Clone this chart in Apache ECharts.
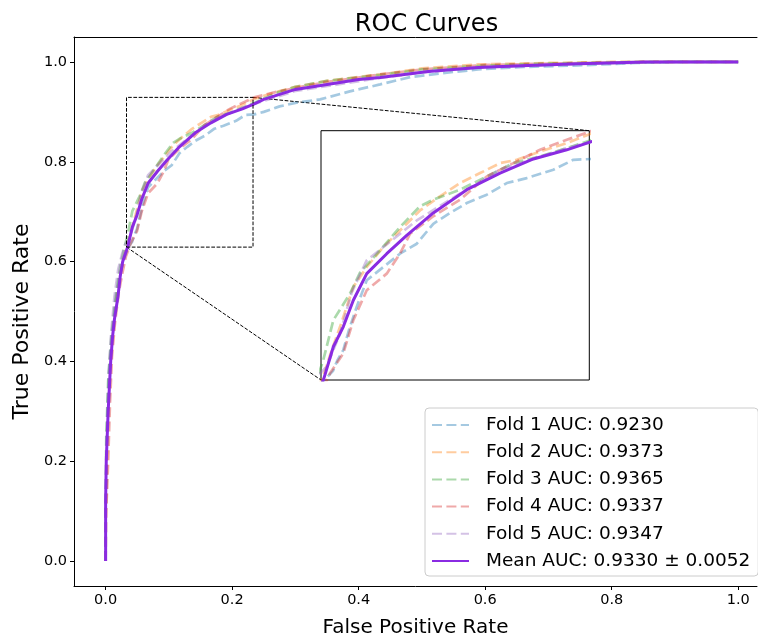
<!DOCTYPE html>
<html><head><meta charset="utf-8">
<script src="https://cdn.jsdelivr.net/npm/echarts@6/dist/echarts.min.js"></script>
<style>html,body{margin:0;padding:0;background:#fff}#c{width:758px;height:643px}</style>
</head><body><div id="c"></div>
<script>
// ---- data ----
const titleText = 'ROC Curves';
const xName = 'False Positive Rate';
const yName = 'True Positive Rate';
const xTicks = [0, 0.2, 0.4, 0.6, 0.8, 1.0];
const yTicks = [0, 0.2, 0.4, 0.6, 0.8, 1.0];
const seriesNames = ['Fold 1 AUC: 0.9230', 'Fold 2 AUC: 0.9373', 'Fold 3 AUC: 0.9365', 'Fold 4 AUC: 0.9337', 'Fold 5 AUC: 0.9347', 'Mean AUC: 0.9330 \u00b1 0.0052'];
const foldColors = ['#1f77b4', '#ff7f0e', '#2ca02c', '#d62728', '#9467bd'];
const meanColor = '#8a2be2';
const zoomX = [0.033, 0.233];
const zoomY = [0.629, 0.929];

const fold1 = [[0,0],[0,0.1],[0.002,0.25],[0.005,0.37],[0.01,0.45],[0.016,0.52],[0.022,0.57],[0.028,0.6],[0.035,0.628],[0.042,0.64],[0.045,0.652],[0.0496,0.665],[0.054,0.69],[0.0596,0.717],[0.0671,0.749],[0.0795,0.765],[0.0919,0.781],[0.1044,0.793],[0.1167,0.817],[0.1292,0.83],[0.1417,0.842],[0.1566,0.852],[0.1715,0.866],[0.1864,0.872],[0.2062,0.882],[0.2211,0.894],[0.235,0.895],[0.25,0.9],[0.275,0.911],[0.3,0.918],[0.339,0.925],[0.386,0.941],[0.434,0.955],[0.483,0.97],[0.55,0.98],[0.589,0.985],[0.66,0.99],[0.747,0.993],[0.84,0.998],[0.9,1],[1,1]];
const fold2 = [[0,0],[0,0.08],[0.003,0.25],[0.007,0.38],[0.012,0.46],[0.018,0.53],[0.024,0.58],[0.03,0.615],[0.036,0.64],[0.041,0.665],[0.0472,0.693],[0.0571,0.741],[0.0671,0.765],[0.0795,0.789],[0.0969,0.817],[0.1068,0.833],[0.1217,0.85],[0.1367,0.866],[0.1516,0.878],[0.1665,0.89],[0.1789,0.894],[0.1963,0.904],[0.2162,0.914],[0.235,0.926],[0.27,0.94],[0.3,0.95],[0.35,0.962],[0.434,0.975],[0.5,0.987],[0.589,0.995],[0.7,0.998],[0.8,1],[1,1]];
const fold3 = [[0,0],[0,0.1],[0.001,0.25],[0.004,0.36],[0.009,0.45],[0.016,0.53],[0.023,0.59],[0.029,0.625],[0.0347,0.653],[0.0422,0.701],[0.0546,0.733],[0.062,0.758],[0.077,0.785],[0.0919,0.813],[0.1068,0.838],[0.1167,0.846],[0.1367,0.858],[0.1566,0.874],[0.1764,0.89],[0.1963,0.898],[0.2162,0.908],[0.235,0.918],[0.27,0.938],[0.3,0.95],[0.35,0.962],[0.434,0.974],[0.5,0.985],[0.6,0.993],[0.7,0.997],[0.85,1],[1,1]];
const fold4 = [[0,0],[0.001,0.1],[0.004,0.2],[0.007,0.32],[0.01,0.41],[0.015,0.48],[0.021,0.54],[0.027,0.58],[0.032,0.61],[0.0397,0.637],[0.0496,0.661],[0.0571,0.701],[0.0671,0.737],[0.082,0.757],[0.0919,0.781],[0.0994,0.805],[0.1167,0.826],[0.1367,0.846],[0.1566,0.874],[0.1764,0.89],[0.1963,0.906],[0.2162,0.918],[0.235,0.929],[0.27,0.94],[0.3,0.948],[0.35,0.96],[0.434,0.975],[0.5,0.985],[0.6,0.994],[0.75,0.998],[0.85,1],[1,1]];
const fold5 = [[0,0],[0,0.1],[0.002,0.25],[0.005,0.38],[0.009,0.46],[0.014,0.53],[0.02,0.585],[0.026,0.615],[0.031,0.635],[0.0372,0.645],[0.0472,0.685],[0.056,0.735],[0.0671,0.773],[0.0795,0.789],[0.1044,0.821],[0.1292,0.846],[0.1665,0.882],[0.2162,0.908],[0.235,0.916],[0.3,0.942],[0.434,0.968],[0.5,0.979],[0.6,0.99],[0.75,0.996],[0.9,1],[1,1]];
const meanRoc = [[0,0],[0,0.12],[0.001,0.2],[0.004,0.3],[0.008,0.4],[0.011,0.45],[0.014,0.485],[0.0195,0.53],[0.023,0.57],[0.027,0.6],[0.031,0.615],[0.035,0.63],[0.0422,0.669],[0.0496,0.693],[0.0571,0.725],[0.0671,0.757],[0.082,0.781],[0.0969,0.803],[0.1167,0.83],[0.1417,0.858],[0.1665,0.878],[0.1913,0.895],[0.2162,0.906],[0.235,0.916],[0.25,0.925],[0.3,0.945],[0.35,0.955],[0.4,0.965],[0.434,0.969],[0.51,0.981],[0.589,0.989],[0.668,0.993],[0.747,0.9966],[0.853,1],[1,1]];
const folds = [fold1, fold2, fold3, fold4, fold5];

// ---- chart ----
const FONT = 'DejaVu Sans';
const chart = echarts.init(document.getElementById('c'), null, {renderer: 'canvas'});
const fmt = v => v.toFixed(1);
const spine = {show: true, onZero: false, lineStyle: {color: '#000', width: 1}};

function foldSeries(i, axis) {
  return {
    type: 'line', name: seriesNames[i], data: folds[i],
    xAxisIndex: axis, yAxisIndex: axis, symbol: 'none', silent: true, z: 2,
    lineStyle: {color: foldColors[i], width: 2.7, type: [10, 4.4], opacity: 0.4},
    itemStyle: {color: foldColors[i], opacity: 0.4}
  };
}
function meanSeries(axis) {
  return {
    type: 'line', name: seriesNames[5], data: meanRoc,
    xAxisIndex: axis, yAxisIndex: axis, symbol: 'none', silent: true, z: 3,
    lineStyle: {color: meanColor, width: 3},
    itemStyle: {color: meanColor}
  };
}
const series = [];
for (let i = 0; i < 5; i++) series.push(foldSeries(i, 0));
series.push(meanSeries(0));
for (let i = 0; i < 5; i++) series.push(foldSeries(i, 1));
series.push(meanSeries(1));
// dashed zoom rectangle on main axes
series.push({
  type: 'line', name: 'zoomRect', silent: true, symbol: 'none', xAxisIndex: 0, yAxisIndex: 0, z: 4,
  data: [[zoomX[0], zoomY[0]], [zoomX[1], zoomY[0]], [zoomX[1], zoomY[1]], [zoomX[0], zoomY[1]], [zoomX[0], zoomY[0]]],
  lineStyle: {color: '#000', width: 1, type: [3.7, 1.6]}
});

const option = {
  animation: false,
  backgroundColor: '#fff',
  title: {
    text: titleText, left: 421.5, top: 8, textAlign: 'center',
    textStyle: {fontFamily: FONT, fontSize: 24, fontWeight: 'normal', color: '#000'}
  },
  legend: {
    orient: 'vertical', left: 425, top: 408, padding: [6, 8, 4, 6],
    itemWidth: 37, itemHeight: 12, itemGap: 5.2,
    data: seriesNames, selectedMode: false,
    itemStyle: {opacity: 0, borderWidth: 0},
    textStyle: {fontFamily: FONT, fontSize: 18.5, color: '#000', lineHeight: 22, padding: [0, 0, 0, 12]},
    backgroundColor: 'rgba(255,255,255,0.8)', borderColor: '#cccccc', borderWidth: 1, borderRadius: 4
  },
  grid: [
    {left: 74, top: 37, right: 1, height: 550, show: false},
    {left: 321, top: 130.7, width: 268.3, height: 249.3, show: true, borderColor: '#000', borderWidth: 1, backgroundColor: '#fff'}
  ],
  xAxis: [
    {
      type: 'value', gridIndex: 0, min: -0.05, max: 1.0297, position: 'bottom',
      axisLine: spine, splitLine: {show: false},
      axisTick: {show: true, length: 4, customValues: xTicks, lineStyle: {color: '#000'}},
      axisLabel: {customValues: xTicks, formatter: fmt, fontFamily: FONT, fontSize: 14.5, color: '#000', margin: 7},
      name: xName, nameLocation: 'middle', nameGap: 32,
      nameTextStyle: {fontFamily: FONT, fontSize: 20, color: '#000'}
    },
    {type: 'value', gridIndex: 1, min: zoomX[0], max: zoomX[1], show: false, splitLine: {show: false}},
    {
      type: 'value', gridIndex: 0, min: -0.05, max: 1.0297, position: 'top',
      axisLine: spine, axisTick: {show: false}, axisLabel: {show: false}, splitLine: {show: false}
    }
  ],
  yAxis: [
    {
      type: 'value', gridIndex: 0, min: -0.05, max: 1.05, position: 'left',
      axisLine: spine, splitLine: {show: false},
      axisTick: {show: true, length: 4, customValues: yTicks, lineStyle: {color: '#000'}},
      axisLabel: {customValues: yTicks, formatter: fmt, fontFamily: FONT, fontSize: 14.5, color: '#000', margin: 7},
      name: yName, nameLocation: 'middle', nameGap: 35, nameRotate: 90,
      nameTextStyle: {fontFamily: FONT, fontSize: 22, color: '#000', padding: [0, 20, 0, 0]}
    },
    {type: 'value', gridIndex: 1, min: zoomY[0], max: zoomY[1], show: false, splitLine: {show: false}}
  ],
  series: series
};
chart.setOption(option);

// connector lines between the zoom rectangle and the inset
const a1 = chart.convertToPixel({gridIndex: 0}, [zoomX[1], zoomY[1]]);
const b1 = chart.convertToPixel({gridIndex: 1}, [zoomX[1], zoomY[1]]);
const a2 = chart.convertToPixel({gridIndex: 0}, [zoomX[0], zoomY[0]]);
const b2 = chart.convertToPixel({gridIndex: 1}, [zoomX[0], zoomY[0]]);
chart.setOption({
  graphic: [
    {type: 'line', silent: true, z: 1, shape: {x1: a1[0], y1: a1[1], x2: b1[0], y2: b1[1]}, style: {stroke: '#000', lineWidth: 1, lineDash: [3.7, 1.6]}},
    {type: 'line', silent: true, z: 1, shape: {x1: a2[0], y1: a2[1], x2: b2[0], y2: b2[1]}, style: {stroke: '#000', lineWidth: 1, lineDash: [3.7, 1.6]}}
  ]
});
</script>
</body></html>
